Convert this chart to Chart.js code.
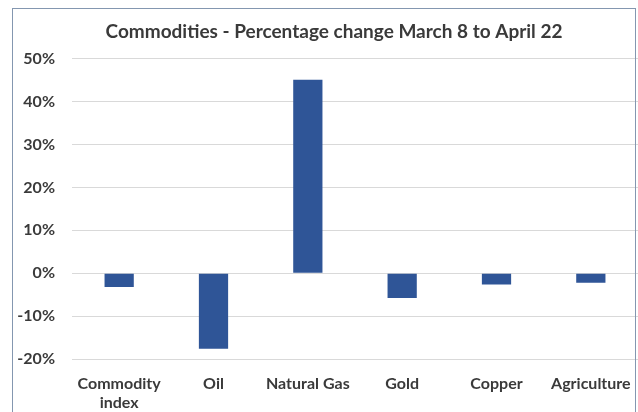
<!DOCTYPE html>
<html>
<head>
<meta charset="utf-8">
<script src="https://cdn.jsdelivr.net/npm/chart.js@4.4.0/dist/chart.umd.min.js"></script>
<style>
  html, body { margin: 0; padding: 0; background: #ffffff; overflow: hidden; }
  #wrap { position: relative; width: 638px; height: 412px; }
  #frame { position: absolute; left: 12px; top: 8px; width: 624px; height: 430px;
           border: 1px solid #8497B0; box-sizing: border-box; pointer-events: none; }
  canvas { position: absolute; left: 0; top: 0; }
</style>
</head>
<body>
<div id="wrap">
  <canvas id="c" width="638" height="412"></canvas>
  <div id="frame"></div>
</div>
<script>
const categories = [['Commodity', 'index'], 'Oil', 'Natural Gas', 'Gold', 'Copper', 'Agriculture'];
const changePct = [-3.2, -17.6, 45.1, -5.8, -2.6, -2.2];
const yTicks = [-20, -10, 0, 10, 20, 30, 40, 50];
const titleText = 'Commodities - Percentage change March 8 to April 22';

const textColor = '#3a3a3a';
const fontFamily = 'Lato, "Noto Sans", sans-serif';

const shiftTitle = {
  id: 'shiftTitle',
  afterLayout(chart) {
    if (chart.titleBlock) { chart.titleBlock.left += 30; }
  }
};

new Chart(document.getElementById('c'), {
  type: 'bar',
  data: {
    labels: categories,
    datasets: [{
      data: changePct,
      backgroundColor: '#2F5597',
      borderWidth: 0,
      barPercentage: 0.31,
      categoryPercentage: 1.0
    }]
  },
  plugins: [shiftTitle],
  options: {
    responsive: false,
    animation: false,
    layout: { padding: { left: 0, right: 0, top: 0, bottom: 0 } },
    plugins: {
      legend: { display: false },
      tooltip: { enabled: false },
      title: {
        display: true,
        text: titleText,
        color: textColor,
        font: { family: fontFamily, size: 19, weight: 'bold' },
        padding: { top: 20, bottom: 16 }
      }
    },
    scales: {
      x: {
        grid: { display: false, drawTicks: false },
        border: { display: false },
        ticks: {
          color: textColor,
          font: { family: fontFamily, size: 16, weight: 'bold' },
          padding: 15,
          maxRotation: 0,
          autoSkip: false
        },
        afterFit(scale) {
          scale.height = 53;
          scale.paddingLeft = 0;
          scale.paddingRight = 0;
        }
      },
      y: {
        min: yTicks[0],
        max: yTicks[yTicks.length - 1],
        afterBuildTicks(scale) { scale.ticks = yTicks.map(v => ({ value: v })); },
        grid: { color: '#D9D9D9', lineWidth: 1, drawTicks: false },
        border: { display: false },
        ticks: {
          color: textColor,
          font: { family: fontFamily, size: 16, weight: 'bold' },
          padding: 17,
          callback: v => v + '%'
        },
        afterFit(scale) {
          scale.width = 72;
          scale.paddingTop = 0;
          scale.paddingBottom = 0;
        }
      }
    }
  }
});
</script>
</body>
</html>
